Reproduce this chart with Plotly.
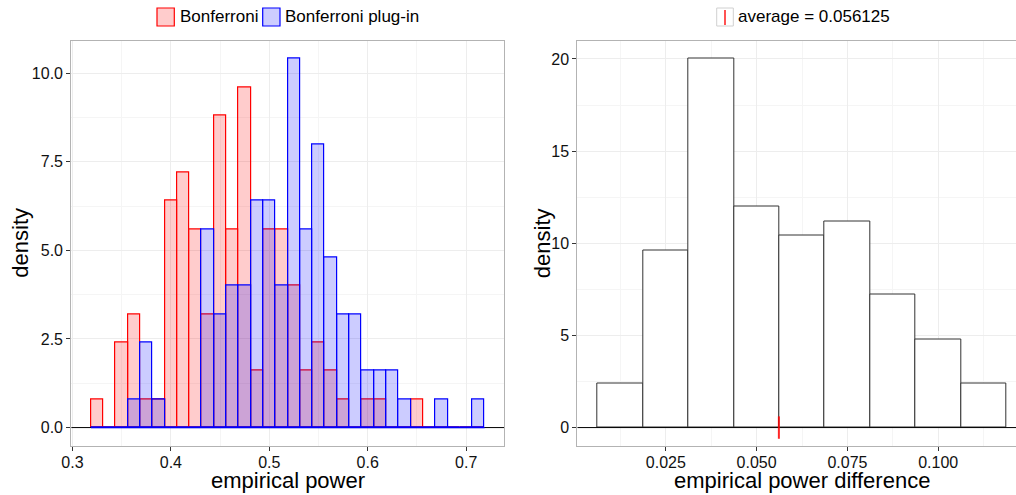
import plotly.graph_objects as go

# ---------------- data ----------------
bin_width = 0.0125
left_first_edge = 0.31875
red_density = [0.8, 0, 2.4, 3.2, 0.8, 0.8, 6.4, 7.2, 5.6, 3.2,
               8.8, 5.6, 9.6, 1.6, 5.6, 5.6, 4.0, 1.6, 2.4, 1.6,
               0.8, 0, 0.8, 0.8, 0, 0, 0.8, 0, 0, 0,
               0, 0]
blue_density = [0, 0, 0, 0.8, 2.4, 0.8, 0, 0, 0, 5.6,
                3.2, 4.0, 4.0, 6.4, 6.4, 4.0, 10.4, 5.6, 8.0, 4.8,
                3.2, 3.2, 1.6, 1.6, 1.6, 0.8, 0, 0, 0.8, 0,
                0, 0.8]
right_first_edge = 0.00625
diff_density = [2.4, 9.6, 20, 12, 10.4, 11.2, 7.2, 4.8, 2.4]
average_diff = 0.056125

left_xticks = [0.3, 0.4, 0.5, 0.6, 0.7]
left_yticks = [0.0, 2.5, 5.0, 7.5, 10.0]
right_xticks = [0.025, 0.050, 0.075, 0.100]
right_yticks = [0, 5, 10, 15, 20]

series_names = ["Bonferroni", "Bonferroni plug-in"]
legend2_text = "average = 0.056125"

# ---------------- geometry ----------------
W, H = 1016, 495
FONT = "Liberation Sans, Arial, sans-serif"
def px(x):
    return x / W
def py(y):
    return 1 - y / H

left_centers = [left_first_edge + bin_width * (i + 0.5) for i in range(len(red_density))]
right_centers = [right_first_edge + bin_width * (i + 0.5) for i in range(len(diff_density))]
left_last_edge = left_first_edge + bin_width * len(red_density)

left_xrange = [0.29875, 0.73875]
left_yrange = [-0.52, 10.92]
right_xrange = [0.000625, 0.12141]
right_yrange = [-1.0, 21.0]

fig = go.Figure()

# left panel
fig.add_trace(go.Bar(x=left_centers, y=red_density, width=bin_width,
                     marker=dict(color="rgba(255,0,0,0.2)", line=dict(color="#FF0000", width=1.2)),
                     name=series_names[0], showlegend=False, xaxis="x", yaxis="y"))
fig.add_trace(go.Bar(x=left_centers, y=blue_density, width=bin_width,
                     marker=dict(color="rgba(0,0,255,0.2)", line=dict(color="#0000FF", width=1.2)),
                     name=series_names[1], showlegend=False, xaxis="x", yaxis="y"))
fig.add_trace(go.Scatter(x=left_xrange, y=[0, 0], mode="lines",
                         line=dict(color="black", width=1), showlegend=False,
                         hoverinfo="skip", xaxis="x", yaxis="y"))
fig.add_trace(go.Scatter(x=[left_first_edge, left_last_edge], y=[0, 0], mode="lines",
                         line=dict(color="#0000FF", width=1.2), showlegend=False,
                         hoverinfo="skip", xaxis="x", yaxis="y"))

# right panel
fig.add_trace(go.Bar(x=right_centers, y=diff_density, width=bin_width,
                     marker=dict(color="white", line=dict(color="#333333", width=1)),
                     showlegend=False, xaxis="x2", yaxis="y2"))
fig.add_trace(go.Scatter(x=right_xrange, y=[0, 0], mode="lines",
                         line=dict(color="black", width=1), showlegend=False,
                         hoverinfo="skip", xaxis="x2", yaxis="y2"))
fig.add_trace(go.Scatter(x=[average_diff], y=[0], mode="markers",
                         marker=dict(symbol="line-ns", size=16,
                                     line=dict(color="rgba(255,0,0,0.85)", width=2)),
                         name=legend2_text, showlegend=False, xaxis="x2", yaxis="y2"))

grid_major = "#EDEDED"
grid_minor = "#F5F5F5"
border = "#B3B3B3"
tickfont = dict(family=FONT, size=16, color="#111111")

def axis_common():
    return dict(showgrid=True, gridcolor=grid_major, gridwidth=1,
                minor=dict(showgrid=True, gridcolor=grid_minor, gridwidth=0.6),
                zeroline=False, showline=True, linecolor=border, linewidth=1,
                ticks="outside", ticklen=4, tickwidth=1, tickcolor="#333333",
                tickfont=tickfont, fixedrange=True, automargin=False)

ydom = [py(446), py(40.5)]
fig.update_layout(
    width=W, height=H, margin=dict(l=0, r=0, t=0, b=0, pad=0, autoexpand=False),
    paper_bgcolor="white", plot_bgcolor="white",
    barmode="overlay", bargap=0, showlegend=False,
    font=dict(family=FONT),
    xaxis=dict(domain=[px(71.2), px(504.3)], range=left_xrange,
               tickvals=left_xticks, ticktext=[f"{v:.1f}" for v in left_xticks],
               mirror=True, anchor="y", ticklabelstandoff=-2, **axis_common()),
    yaxis=dict(domain=ydom, range=left_yrange,
               tickvals=left_yticks, ticktext=[f"{v:.1f}" for v in left_yticks],
               mirror=True, anchor="x", **axis_common()),
    xaxis2=dict(domain=[px(577.3), 1.0], range=right_xrange,
                tickvals=right_xticks, ticktext=[f"{v:.3f}" for v in right_xticks],
                mirror=True, anchor="y2", ticklabelstandoff=-2, **axis_common()),
    yaxis2=dict(domain=ydom, range=right_yrange,
                tickvals=right_yticks, ticktext=[str(v) for v in right_yticks],
                mirror=False, anchor="x2", **axis_common()),
)
fig.layout.xaxis.minor.tickvals = [0.35, 0.45, 0.55, 0.65]
fig.layout.yaxis.minor.tickvals = [1.25, 3.75, 6.25, 8.75]
fig.layout.xaxis2.minor.tickvals = [0.0125, 0.0375, 0.0625, 0.0875, 0.1125]
fig.layout.yaxis2.minor.tickvals = [2.5, 7.5, 12.5, 17.5]

title_font = dict(family=FONT, size=22, color="black")
annotations = [
    dict(text="empirical power", x=px(287.6), y=py(480.5), xref="paper", yref="paper",
         xanchor="center", yanchor="middle", showarrow=False, font=title_font),
    dict(text="empirical power difference", x=px(801.5), y=py(480.5), xref="paper", yref="paper",
         xanchor="center", yanchor="middle", showarrow=False, font=title_font),
    dict(text="density", x=px(20.5), y=py(243.2), xref="paper", yref="paper", textangle=-90,
         xanchor="center", yanchor="middle", showarrow=False, font=title_font),
    dict(text="density", x=px(542), y=py(243.2), xref="paper", yref="paper", textangle=-90,
         xanchor="center", yanchor="middle", showarrow=False, font=title_font),
    dict(text=series_names[0], x=px(177.5), y=py(16.7), xref="paper", yref="paper",
         xanchor="left", yanchor="middle", showarrow=False,
         font=dict(family=FONT, size=17, color="black")),
    dict(text=series_names[1], x=px(282.7), y=py(16.7), xref="paper", yref="paper",
         xanchor="left", yanchor="middle", showarrow=False,
         font=dict(family=FONT, size=17, color="black")),
    dict(text=legend2_text, x=px(735.9), y=py(16.7), xref="paper", yref="paper",
         xanchor="left", yanchor="middle", showarrow=False,
         font=dict(family=FONT, size=17, color="black")),
]
fig.update_layout(annotations=annotations)

shapes = [
    dict(type="rect", xref="paper", yref="paper", x0=px(157), x1=px(174.3), y0=py(26), y1=py(8),
         fillcolor="#FFCCCC", line=dict(color="#FF0000", width=1.2)),
    dict(type="rect", xref="paper", yref="paper", x0=px(262.7), x1=px(280), y0=py(26), y1=py(8),
         fillcolor="#CCCCFF", line=dict(color="#0000FF", width=1.2)),
    dict(type="rect", xref="paper", yref="paper", x0=px(716.7), x1=px(733.3), y0=py(26), y1=py(8),
         fillcolor="white", line=dict(color="#D0D0D0", width=1)),
    dict(type="line", xref="paper", yref="paper", x0=px(725), x1=px(725), y0=py(25), y1=py(10),
         line=dict(color="rgba(255,0,0,0.85)", width=1.6)),
]
fig.update_layout(shapes=shapes)

fig.write_html("out.html", config={"displayModeBar": False},
               post_script="document.body.style.margin='0';document.body.style.overflow='hidden';")
